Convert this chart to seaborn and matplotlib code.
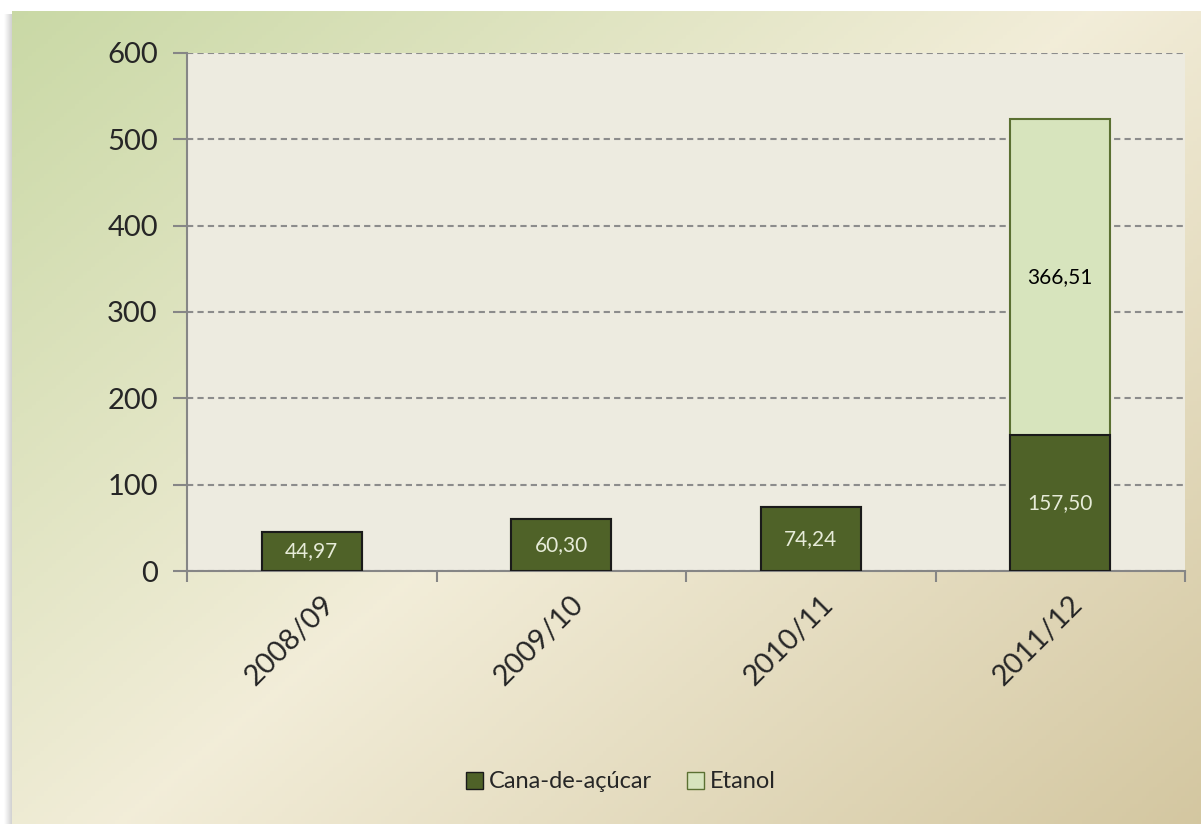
import numpy as np
import pandas as pd
import matplotlib
matplotlib.use("Agg")
import matplotlib.pyplot as plt
import matplotlib.transforms as mtransforms
import seaborn as sns
from matplotlib.patches import Patch

safras = ["2008/09", "2009/10", "2010/11", "2011/12"]
cana = [44.97, 60.30, 74.24, 157.50]
etanol = [0.0, 0.0, 0.0, 366.51]
yticks = [0, 100, 200, 300, 400, 500, 600]

df = pd.DataFrame({"safra": safras, "cana": cana, "etanol": etanol})
df["total"] = df["cana"] + df["etanol"]

sns.set_theme(style="white")
plt.rcParams["font.family"] = ["Lato", "DejaVu Sans"]

W, H = 1201, 824
fig = plt.figure(figsize=(W / 100, H / 100), dpi=100)
fig.patch.set_facecolor("white")

# diagonal gradient background of the chart frame
bg = fig.add_axes([12 / W, 0, 1 - 12 / W, 1 - 11 / H])
bg.set_axis_off()
yy, xx = np.mgrid[0:1:200j, 0:1:300j]
t = (xx * 0.55 + yy * 0.45)
c0 = np.array([0.79, 0.85, 0.65])
c1 = np.array([0.95, 0.93, 0.85])
c2 = np.array([0.83, 0.78, 0.63])
tt = t[..., None]
img = np.where(tt < 0.5, c0 + (c1 - c0) * (tt / 0.5), c1 + (c2 - c1) * ((tt - 0.5) / 0.5))
bg.imshow(img, aspect="auto", extent=[0, 1, 0, 1], origin="upper")
bg.set_xlim(0, 1)
bg.set_ylim(0, 1)

# shadow on the left edge
sh = fig.add_axes([4 / W, 0, 8 / W, 1 - 14 / H])
sh.set_axis_off()
sh.imshow(np.linspace(1, 0.82, 20)[None, :, None] * np.ones((1, 20, 3)), aspect="auto")

ax = fig.add_axes([187 / W, 1 - 571 / H, 998 / W, 518 / H])
ax.set_facecolor("#EDEBE0")

sns.barplot(data=df, x="safra", y="total", color="#D7E4BD", edgecolor="#5B7032",
            linewidth=1.5, width=0.4, saturation=1, ax=ax, zorder=3)
sns.barplot(data=df, x="safra", y="cana", color="#4F6228", edgecolor="#1A1A1A",
            linewidth=1.5, width=0.4, saturation=1, ax=ax, zorder=3)

dark = ax.containers[1]
ax.bar_label(dark, labels=[f"{v:.2f}".replace(".", ",") for v in cana],
             label_type="center", color="#E6EBD8", fontsize=15)
# etanol labels in the middle of their own segment
for i, (c, e) in enumerate(zip(cana, etanol)):
    if e > 0:
        ax.text(i, c + e / 2, f"{e:.2f}".replace(".", ","), ha="center", va="center",
                color="black", fontsize=15, zorder=4)

ax.set_ylim(0, 600)
ax.set_xlim(-0.5, 3.5)
ax.set_yticks(yticks)
ax.set_yticklabels([str(v) for v in yticks], fontsize=21)
ax.yaxis.grid(True, linestyle=(0, (3, 2)), color="#8C8C8C", linewidth=1.5, zorder=1)
ax.set_axisbelow(True)
ax.tick_params(axis="y", length=10, width=1.5, color="#868686", pad=11, left=True)
ax.set_xticks(range(len(safras)))
ax.set_xticklabels(safras, fontsize=21, rotation=45, ha="right", rotation_mode="anchor")
ax.tick_params(axis="x", which="major", length=0, pad=14)
shift = mtransforms.ScaledTranslation(9 / 100, 0, fig.dpi_scale_trans)
for lbl in ax.get_xticklabels():
    lbl.set_transform(lbl.get_transform() + shift)
ax.set_xticks([-0.5, 0.5, 1.5, 2.5, 3.5], minor=True)
ax.tick_params(axis="x", which="minor", length=8, width=1.5, color="#868686", bottom=True)
ax.set_xlabel("")
ax.set_ylabel("")
for s in ["top", "right"]:
    ax.spines[s].set_visible(False)
for s in ["left", "bottom"]:
    ax.spines[s].set_color("#868686")
    ax.spines[s].set_linewidth(1.5)

handles = [Patch(facecolor="#4F6228", edgecolor="#1A1A1A", label="Cana-de-açúcar"),
           Patch(facecolor="#D7E4BD", edgecolor="#5B7032", label="Etanol")]
fig.legend(handles=handles, loc="center", bbox_to_anchor=(621 / W, 1 - 782 / H),
           ncol=2, frameon=False, fontsize=17, handlelength=0.7, handleheight=0.7,
           handletextpad=0.25, columnspacing=1.5)

fig.savefig("out.png", dpi=100)
